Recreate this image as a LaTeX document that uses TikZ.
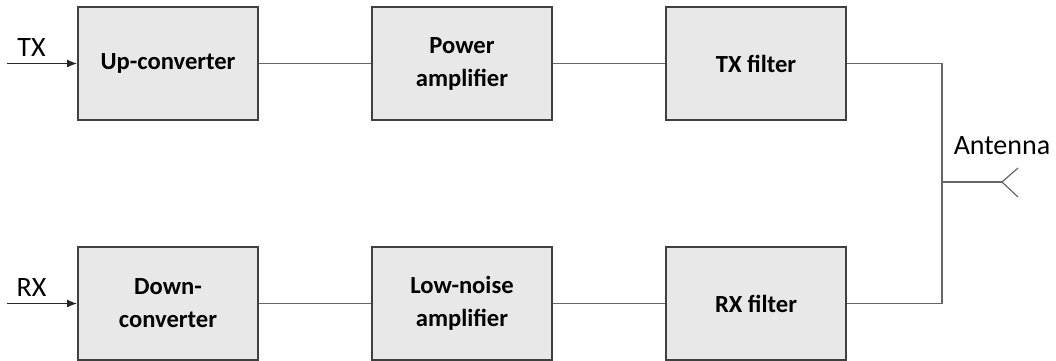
\documentclass[tikz,border=0pt]{standalone}
\usepackage{fontspec}
\setmainfont{Carlito}
\usetikzlibrary{arrows.meta}
\usetikzlibrary{positioning}

\begin{document}
\begin{tikzpicture}[
        block/.style={draw=black!75, line width=1pt, fill=black!9,
            minimum width=90pt, minimum height=56.5pt, align=center,
            font=\fontsize{12.3}{16.5}\selectfont\bfseries},
        wire/.style={draw=black!60, line width=0.6pt},
        every edge/.style={draw=black!85, line width=0.6pt},
        lbl/.style={font=\fontsize{14}{16}\selectfont},
        node distance=62.5pt and 56pt
    ]

            \useasboundingbox (0,0) rectangle (528pt,-180pt);

            % transmit chain
            \node[block] (up)               at (84pt,-31.75pt) {Up-converter};
            \node[block] (pa)   [right = of up]   {Power\\amplifier};
            \node[block] (txf)  [right = of pa]   {TX filter};

            % receive chain
            \node[block] (down) [below = of up]   {Down-\\converter};
            \node[block] (lna)  [right = of down] {Low-noise\\amplifier};
            \node[block] (rxf)  [right = of lna]  {RX filter};

            \coordinate[left = 35pt of up.west]   (txin);
            \coordinate[left = 35pt of down.west] (rxin);
            \coordinate (junc) at (471pt,-91pt);
            \coordinate[right = 30pt of junc] (ant);
            \coordinate (anttop) at ([shift={(8pt,7pt)}]ant);
            \coordinate (antbot) at ([shift={(8pt,-7.5pt)}]ant);

            \path[-{Latex[length=5pt,width=4pt]}]
                (txin) edge[above] node[lbl, pos=0.35] {TX} (up)
                (rxin) edge[above] node[lbl, pos=0.35] {RX} (down);

            \draw[wire] (up) -- (pa);
            \draw[wire] (pa) -- (txf);
            \draw[wire] (down) -- (lna);
            \draw[wire] (lna) -- (rxf);
            \draw[wire] (txf.east) -| (junc) |- (rxf.east);
            \draw[wire] (junc) -- (ant);
            \draw[wire] (anttop) -- (ant) -- (antbot);
            \node[lbl] (antlbl) [above = 10pt of ant] {Antenna};

        \end{tikzpicture}
\end{document}
